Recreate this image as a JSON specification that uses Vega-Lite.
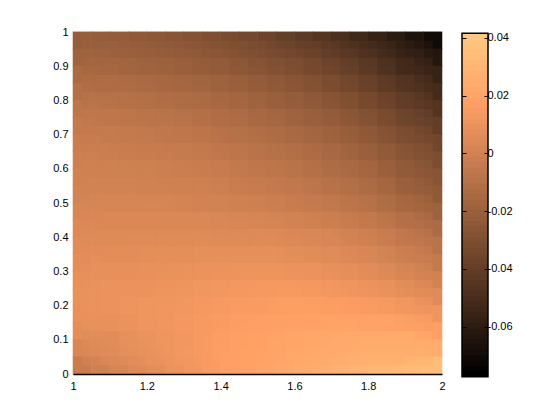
{"$schema":"https://vega.github.io/schema/vega-lite/v6.json","autosize":"none","padding":0,"width":560,"height":420,"background":"white","config":{"view":{"stroke":null},"font":"Liberation Sans","axis":{"labelFont":"Liberation Sans","labelFontSize":11,"labelColor":"black","title":null,"grid":false}},"resolve":{"scale":{"x":"independent","y":"independent","color":"independent"},"axis":{"x":"independent","y":"independent"}},"datasets":{"grid":[
{"x":1.025,"y":0.975,"v":-0.0213},{"x":1.075,"y":0.975,"v":-0.0218},{"x":1.125,"y":0.975,"v":-0.0225},{"x":1.175,"y":0.975,"v":-0.0235},{"x":1.225,"y":0.975,"v":-0.0248},{"x":1.275,"y":0.975,"v":-0.0263},{"x":1.325,"y":0.975,"v":-0.028},{"x":1.375,"y":0.975,"v":-0.03},{"x":1.425,"y":0.975,"v":-0.032},{"x":1.475,"y":0.975,"v":-0.034},{"x":1.525,"y":0.975,"v":-0.0366},{"x":1.575,"y":0.975,"v":-0.0399},{"x":1.625,"y":0.975,"v":-0.0429},{"x":1.675,"y":0.975,"v":-0.0456},{"x":1.725,"y":0.975,"v":-0.049},{"x":1.775,"y":0.975,"v":-0.053},{"x":1.825,"y":0.975,"v":-0.0573},{"x":1.875,"y":0.975,"v":-0.0618},{"x":1.925,"y":0.975,"v":-0.0663},{"x":1.975,"y":0.975,"v":-0.0708},
{"x":1.025,"y":0.925,"v":-0.0178},{"x":1.075,"y":0.925,"v":-0.0183},{"x":1.125,"y":0.925,"v":-0.019},{"x":1.175,"y":0.925,"v":-0.02},{"x":1.225,"y":0.925,"v":-0.021},{"x":1.275,"y":0.925,"v":-0.022},{"x":1.325,"y":0.925,"v":-0.0234},{"x":1.375,"y":0.925,"v":-0.0251},{"x":1.425,"y":0.925,"v":-0.027},{"x":1.475,"y":0.925,"v":-0.029},{"x":1.525,"y":0.925,"v":-0.0311},{"x":1.575,"y":0.925,"v":-0.0334},{"x":1.625,"y":0.925,"v":-0.0359},{"x":1.675,"y":0.925,"v":-0.0386},{"x":1.725,"y":0.925,"v":-0.0418},{"x":1.775,"y":0.925,"v":-0.0453},{"x":1.825,"y":0.925,"v":-0.0493},{"x":1.875,"y":0.925,"v":-0.0538},{"x":1.925,"y":0.925,"v":-0.0585},{"x":1.975,"y":0.925,"v":-0.0635},
{"x":1.025,"y":0.875,"v":-0.0139},{"x":1.075,"y":0.875,"v":-0.0144},{"x":1.125,"y":0.875,"v":-0.0151},{"x":1.175,"y":0.875,"v":-0.016},{"x":1.225,"y":0.875,"v":-0.017},{"x":1.275,"y":0.875,"v":-0.018},{"x":1.325,"y":0.875,"v":-0.0191},{"x":1.375,"y":0.875,"v":-0.0204},{"x":1.425,"y":0.875,"v":-0.0216},{"x":1.475,"y":0.875,"v":-0.0239},{"x":1.525,"y":0.875,"v":-0.0258},{"x":1.575,"y":0.875,"v":-0.0278},{"x":1.625,"y":0.875,"v":-0.03},{"x":1.675,"y":0.875,"v":-0.0326},{"x":1.725,"y":0.875,"v":-0.0355},{"x":1.775,"y":0.875,"v":-0.0388},{"x":1.825,"y":0.875,"v":-0.0427},{"x":1.875,"y":0.875,"v":-0.0471},{"x":1.925,"y":0.875,"v":-0.0518},{"x":1.975,"y":0.875,"v":-0.0568},
{"x":1.025,"y":0.825,"v":-0.0102},{"x":1.075,"y":0.825,"v":-0.0107},{"x":1.125,"y":0.825,"v":-0.0113},{"x":1.175,"y":0.825,"v":-0.0121},{"x":1.225,"y":0.825,"v":-0.013},{"x":1.275,"y":0.825,"v":-0.014},{"x":1.325,"y":0.825,"v":-0.0151},{"x":1.375,"y":0.825,"v":-0.0164},{"x":1.425,"y":0.825,"v":-0.0178},{"x":1.475,"y":0.825,"v":-0.0195},{"x":1.525,"y":0.825,"v":-0.0213},{"x":1.575,"y":0.825,"v":-0.0233},{"x":1.625,"y":0.825,"v":-0.0256},{"x":1.675,"y":0.825,"v":-0.028},{"x":1.725,"y":0.825,"v":-0.0309},{"x":1.775,"y":0.825,"v":-0.0339},{"x":1.825,"y":0.825,"v":-0.0376},{"x":1.875,"y":0.825,"v":-0.0417},{"x":1.925,"y":0.825,"v":-0.0463},{"x":1.975,"y":0.825,"v":-0.0513},
{"x":1.025,"y":0.775,"v":-0.007},{"x":1.075,"y":0.775,"v":-0.0075},{"x":1.125,"y":0.775,"v":-0.0081},{"x":1.175,"y":0.775,"v":-0.0088},{"x":1.225,"y":0.775,"v":-0.0096},{"x":1.275,"y":0.775,"v":-0.0105},{"x":1.325,"y":0.775,"v":-0.0116},{"x":1.375,"y":0.775,"v":-0.0128},{"x":1.425,"y":0.775,"v":-0.0141},{"x":1.475,"y":0.775,"v":-0.0156},{"x":1.525,"y":0.775,"v":-0.0172},{"x":1.575,"y":0.775,"v":-0.0191},{"x":1.625,"y":0.775,"v":-0.0212},{"x":1.675,"y":0.775,"v":-0.0236},{"x":1.725,"y":0.775,"v":-0.0263},{"x":1.775,"y":0.775,"v":-0.0293},{"x":1.825,"y":0.775,"v":-0.0327},{"x":1.875,"y":0.775,"v":-0.0366},{"x":1.925,"y":0.775,"v":-0.041},{"x":1.975,"y":0.775,"v":-0.0459},
{"x":1.025,"y":0.725,"v":-0.0045},{"x":1.075,"y":0.725,"v":-0.005},{"x":1.125,"y":0.725,"v":-0.0056},{"x":1.175,"y":0.725,"v":-0.0061},{"x":1.225,"y":0.725,"v":-0.0068},{"x":1.275,"y":0.725,"v":-0.0076},{"x":1.325,"y":0.725,"v":-0.0086},{"x":1.375,"y":0.725,"v":-0.0095},{"x":1.425,"y":0.725,"v":-0.0108},{"x":1.475,"y":0.725,"v":-0.0121},{"x":1.525,"y":0.725,"v":-0.0136},{"x":1.575,"y":0.725,"v":-0.0152},{"x":1.625,"y":0.725,"v":-0.0171},{"x":1.675,"y":0.725,"v":-0.0192},{"x":1.725,"y":0.725,"v":-0.0218},{"x":1.775,"y":0.725,"v":-0.0248},{"x":1.825,"y":0.725,"v":-0.0282},{"x":1.875,"y":0.725,"v":-0.0319},{"x":1.925,"y":0.725,"v":-0.036},{"x":1.975,"y":0.725,"v":-0.0406},
{"x":1.025,"y":0.675,"v":-0.0025},{"x":1.075,"y":0.675,"v":-0.0028},{"x":1.125,"y":0.675,"v":-0.0032},{"x":1.175,"y":0.675,"v":-0.0037},{"x":1.225,"y":0.675,"v":-0.0043},{"x":1.275,"y":0.675,"v":-0.0049},{"x":1.325,"y":0.675,"v":-0.0058},{"x":1.375,"y":0.675,"v":-0.0067},{"x":1.425,"y":0.675,"v":-0.0078},{"x":1.475,"y":0.675,"v":-0.0091},{"x":1.525,"y":0.675,"v":-0.0105},{"x":1.575,"y":0.675,"v":-0.0118},{"x":1.625,"y":0.675,"v":-0.0135},{"x":1.675,"y":0.675,"v":-0.0155},{"x":1.725,"y":0.675,"v":-0.0179},{"x":1.775,"y":0.675,"v":-0.0206},{"x":1.825,"y":0.675,"v":-0.0238},{"x":1.875,"y":0.675,"v":-0.0273},{"x":1.925,"y":0.675,"v":-0.0312},{"x":1.975,"y":0.675,"v":-0.0356},
{"x":1.025,"y":0.625,"v":-0.0009},{"x":1.075,"y":0.625,"v":-0.001},{"x":1.125,"y":0.625,"v":-0.0012},{"x":1.175,"y":0.625,"v":-0.0015},{"x":1.225,"y":0.625,"v":-0.0019},{"x":1.275,"y":0.625,"v":-0.0025},{"x":1.325,"y":0.625,"v":-0.0032},{"x":1.375,"y":0.625,"v":-0.004},{"x":1.425,"y":0.625,"v":-0.0051},{"x":1.475,"y":0.625,"v":-0.0066},{"x":1.525,"y":0.625,"v":-0.0079},{"x":1.575,"y":0.625,"v":-0.009},{"x":1.625,"y":0.625,"v":-0.0105},{"x":1.675,"y":0.625,"v":-0.0125},{"x":1.725,"y":0.625,"v":-0.0146},{"x":1.775,"y":0.625,"v":-0.0169},{"x":1.825,"y":0.625,"v":-0.0198},{"x":1.875,"y":0.625,"v":-0.0232},{"x":1.925,"y":0.625,"v":-0.0271},{"x":1.975,"y":0.625,"v":-0.0312},
{"x":1.025,"y":0.575,"v":0.0005},{"x":1.075,"y":0.575,"v":0.0005},{"x":1.125,"y":0.575,"v":0.0004},{"x":1.175,"y":0.575,"v":0.0002},{"x":1.225,"y":0.575,"v":-0.0001},{"x":1.275,"y":0.575,"v":-0.0005},{"x":1.325,"y":0.575,"v":-0.0011},{"x":1.375,"y":0.575,"v":-0.0018},{"x":1.425,"y":0.575,"v":-0.0028},{"x":1.475,"y":0.575,"v":-0.0041},{"x":1.525,"y":0.575,"v":-0.0053},{"x":1.575,"y":0.575,"v":-0.0063},{"x":1.625,"y":0.575,"v":-0.0077},{"x":1.675,"y":0.575,"v":-0.0096},{"x":1.725,"y":0.575,"v":-0.0115},{"x":1.775,"y":0.575,"v":-0.0135},{"x":1.825,"y":0.575,"v":-0.0162},{"x":1.875,"y":0.575,"v":-0.0196},{"x":1.925,"y":0.575,"v":-0.0232},{"x":1.975,"y":0.575,"v":-0.0271},
{"x":1.025,"y":0.525,"v":0.0015},{"x":1.075,"y":0.525,"v":0.0015},{"x":1.125,"y":0.525,"v":0.0015},{"x":1.175,"y":0.525,"v":0.0014},{"x":1.225,"y":0.525,"v":0.0013},{"x":1.275,"y":0.525,"v":0.001},{"x":1.325,"y":0.525,"v":0.0005},{"x":1.375,"y":0.525,"v":0},{"x":1.425,"y":0.525,"v":-0.0008},{"x":1.475,"y":0.525,"v":-0.0018},{"x":1.525,"y":0.525,"v":-0.0028},{"x":1.575,"y":0.525,"v":-0.0038},{"x":1.625,"y":0.525,"v":-0.0051},{"x":1.675,"y":0.525,"v":-0.0067},{"x":1.725,"y":0.525,"v":-0.0085},{"x":1.775,"y":0.525,"v":-0.0105},{"x":1.825,"y":0.525,"v":-0.0131},{"x":1.875,"y":0.525,"v":-0.0162},{"x":1.925,"y":0.525,"v":-0.0197},{"x":1.975,"y":0.525,"v":-0.0234},
{"x":1.025,"y":0.475,"v":0.0029},{"x":1.075,"y":0.475,"v":0.0029},{"x":1.125,"y":0.475,"v":0.0029},{"x":1.175,"y":0.475,"v":0.0029},{"x":1.225,"y":0.475,"v":0.0028},{"x":1.275,"y":0.475,"v":0.0026},{"x":1.325,"y":0.475,"v":0.0023},{"x":1.375,"y":0.475,"v":0.002},{"x":1.425,"y":0.475,"v":0.0015},{"x":1.475,"y":0.475,"v":0.0008},{"x":1.525,"y":0.475,"v":0},{"x":1.575,"y":0.475,"v":-0.0009},{"x":1.625,"y":0.475,"v":-0.002},{"x":1.675,"y":0.475,"v":-0.0033},{"x":1.725,"y":0.475,"v":-0.0048},{"x":1.775,"y":0.475,"v":-0.0066},{"x":1.825,"y":0.475,"v":-0.009},{"x":1.875,"y":0.475,"v":-0.0119},{"x":1.925,"y":0.475,"v":-0.015},{"x":1.975,"y":0.475,"v":-0.0186},
{"x":1.025,"y":0.425,"v":0.0046},{"x":1.075,"y":0.425,"v":0.0046},{"x":1.125,"y":0.425,"v":0.0046},{"x":1.175,"y":0.425,"v":0.0046},{"x":1.225,"y":0.425,"v":0.0046},{"x":1.275,"y":0.425,"v":0.0045},{"x":1.325,"y":0.425,"v":0.0045},{"x":1.375,"y":0.425,"v":0.0044},{"x":1.425,"y":0.425,"v":0.0041},{"x":1.475,"y":0.425,"v":0.0037},{"x":1.525,"y":0.425,"v":0.0032},{"x":1.575,"y":0.425,"v":0.0026},{"x":1.625,"y":0.425,"v":0.0019},{"x":1.675,"y":0.425,"v":0.0009},{"x":1.725,"y":0.425,"v":-0.0003},{"x":1.775,"y":0.425,"v":-0.0018},{"x":1.825,"y":0.425,"v":-0.0038},{"x":1.875,"y":0.425,"v":-0.0065},{"x":1.925,"y":0.425,"v":-0.0095},{"x":1.975,"y":0.425,"v":-0.013},
{"x":1.025,"y":0.375,"v":0.0063},{"x":1.075,"y":0.375,"v":0.0063},{"x":1.125,"y":0.375,"v":0.0064},{"x":1.175,"y":0.375,"v":0.0065},{"x":1.225,"y":0.375,"v":0.0065},{"x":1.275,"y":0.375,"v":0.0066},{"x":1.325,"y":0.375,"v":0.0067},{"x":1.375,"y":0.375,"v":0.0067},{"x":1.425,"y":0.375,"v":0.0067},{"x":1.475,"y":0.375,"v":0.0066},{"x":1.525,"y":0.375,"v":0.0063},{"x":1.575,"y":0.375,"v":0.0058},{"x":1.625,"y":0.375,"v":0.0052},{"x":1.675,"y":0.375,"v":0.0045},{"x":1.725,"y":0.375,"v":0.0035},{"x":1.775,"y":0.375,"v":0.0022},{"x":1.825,"y":0.375,"v":0.0004},{"x":1.875,"y":0.375,"v":-0.0021},{"x":1.925,"y":0.375,"v":-0.005},{"x":1.975,"y":0.375,"v":-0.0083},
{"x":1.025,"y":0.325,"v":0.0079},{"x":1.075,"y":0.325,"v":0.008},{"x":1.125,"y":0.325,"v":0.0082},{"x":1.175,"y":0.325,"v":0.0084},{"x":1.225,"y":0.325,"v":0.0086},{"x":1.275,"y":0.325,"v":0.0088},{"x":1.325,"y":0.325,"v":0.009},{"x":1.375,"y":0.325,"v":0.0092},{"x":1.425,"y":0.325,"v":0.0094},{"x":1.475,"y":0.325,"v":0.0095},{"x":1.525,"y":0.325,"v":0.0094},{"x":1.575,"y":0.325,"v":0.0091},{"x":1.625,"y":0.325,"v":0.0085},{"x":1.675,"y":0.325,"v":0.0078},{"x":1.725,"y":0.325,"v":0.0068},{"x":1.775,"y":0.325,"v":0.0055},{"x":1.825,"y":0.325,"v":0.0038},{"x":1.875,"y":0.325,"v":0.0014},{"x":1.925,"y":0.325,"v":-0.0013},{"x":1.975,"y":0.325,"v":-0.0044},
{"x":1.025,"y":0.275,"v":0.0091},{"x":1.075,"y":0.275,"v":0.0094},{"x":1.125,"y":0.275,"v":0.0097},{"x":1.175,"y":0.275,"v":0.01},{"x":1.225,"y":0.275,"v":0.0103},{"x":1.275,"y":0.275,"v":0.0106},{"x":1.325,"y":0.275,"v":0.011},{"x":1.375,"y":0.275,"v":0.0114},{"x":1.425,"y":0.275,"v":0.0118},{"x":1.475,"y":0.275,"v":0.0121},{"x":1.525,"y":0.275,"v":0.0123},{"x":1.575,"y":0.275,"v":0.0122},{"x":1.625,"y":0.275,"v":0.0118},{"x":1.675,"y":0.275,"v":0.0112},{"x":1.725,"y":0.275,"v":0.0103},{"x":1.775,"y":0.275,"v":0.0092},{"x":1.825,"y":0.275,"v":0.0076},{"x":1.875,"y":0.275,"v":0.0055},{"x":1.925,"y":0.275,"v":0.0031},{"x":1.975,"y":0.275,"v":0.0004},
{"x":1.025,"y":0.225,"v":0.0099},{"x":1.075,"y":0.225,"v":0.0106},{"x":1.125,"y":0.225,"v":0.011},{"x":1.175,"y":0.225,"v":0.0113},{"x":1.225,"y":0.225,"v":0.0116},{"x":1.275,"y":0.225,"v":0.0121},{"x":1.325,"y":0.225,"v":0.0127},{"x":1.375,"y":0.225,"v":0.0135},{"x":1.425,"y":0.225,"v":0.0141},{"x":1.475,"y":0.225,"v":0.0146},{"x":1.525,"y":0.225,"v":0.015},{"x":1.575,"y":0.225,"v":0.0153},{"x":1.625,"y":0.225,"v":0.0152},{"x":1.675,"y":0.225,"v":0.0148},{"x":1.725,"y":0.225,"v":0.0142},{"x":1.775,"y":0.225,"v":0.0133},{"x":1.825,"y":0.225,"v":0.012},{"x":1.875,"y":0.225,"v":0.0104},{"x":1.925,"y":0.225,"v":0.0084},{"x":1.975,"y":0.225,"v":0.0061},
{"x":1.025,"y":0.175,"v":0.0095},{"x":1.075,"y":0.175,"v":0.0103},{"x":1.125,"y":0.175,"v":0.0111},{"x":1.175,"y":0.175,"v":0.0116},{"x":1.225,"y":0.175,"v":0.0123},{"x":1.275,"y":0.175,"v":0.0129},{"x":1.325,"y":0.175,"v":0.0139},{"x":1.375,"y":0.175,"v":0.015},{"x":1.425,"y":0.175,"v":0.0159},{"x":1.475,"y":0.175,"v":0.0165},{"x":1.525,"y":0.175,"v":0.0171},{"x":1.575,"y":0.175,"v":0.0177},{"x":1.625,"y":0.175,"v":0.018},{"x":1.675,"y":0.175,"v":0.0181},{"x":1.725,"y":0.175,"v":0.0179},{"x":1.775,"y":0.175,"v":0.0175},{"x":1.825,"y":0.175,"v":0.0167},{"x":1.875,"y":0.175,"v":0.0154},{"x":1.925,"y":0.175,"v":0.0139},{"x":1.975,"y":0.175,"v":0.012},
{"x":1.025,"y":0.125,"v":0.0076},{"x":1.075,"y":0.125,"v":0.0087},{"x":1.125,"y":0.125,"v":0.0098},{"x":1.175,"y":0.125,"v":0.011},{"x":1.225,"y":0.125,"v":0.0122},{"x":1.275,"y":0.125,"v":0.0132},{"x":1.325,"y":0.125,"v":0.0145},{"x":1.375,"y":0.125,"v":0.0161},{"x":1.425,"y":0.125,"v":0.0172},{"x":1.475,"y":0.125,"v":0.0179},{"x":1.525,"y":0.125,"v":0.0187},{"x":1.575,"y":0.125,"v":0.0196},{"x":1.625,"y":0.125,"v":0.0204},{"x":1.675,"y":0.125,"v":0.021},{"x":1.725,"y":0.125,"v":0.0215},{"x":1.775,"y":0.125,"v":0.0217},{"x":1.825,"y":0.125,"v":0.0214},{"x":1.875,"y":0.125,"v":0.0207},{"x":1.925,"y":0.125,"v":0.0195},{"x":1.975,"y":0.125,"v":0.0178},
{"x":1.025,"y":0.075,"v":0.0036},{"x":1.075,"y":0.075,"v":0.0053},{"x":1.125,"y":0.075,"v":0.007},{"x":1.175,"y":0.075,"v":0.009},{"x":1.225,"y":0.075,"v":0.0108},{"x":1.275,"y":0.075,"v":0.0124},{"x":1.325,"y":0.075,"v":0.0143},{"x":1.375,"y":0.075,"v":0.0163},{"x":1.425,"y":0.075,"v":0.0178},{"x":1.475,"y":0.075,"v":0.0189},{"x":1.525,"y":0.075,"v":0.02},{"x":1.575,"y":0.075,"v":0.0214},{"x":1.625,"y":0.075,"v":0.0226},{"x":1.675,"y":0.075,"v":0.0239},{"x":1.725,"y":0.075,"v":0.025},{"x":1.775,"y":0.075,"v":0.0259},{"x":1.825,"y":0.075,"v":0.0265},{"x":1.875,"y":0.075,"v":0.0267},{"x":1.925,"y":0.075,"v":0.0265},{"x":1.975,"y":0.075,"v":0.0258},
{"x":1.025,"y":0.025,"v":-0.0025},{"x":1.075,"y":0.025,"v":0.0001},{"x":1.125,"y":0.025,"v":0.0027},{"x":1.175,"y":0.025,"v":0.0053},{"x":1.225,"y":0.025,"v":0.0079},{"x":1.275,"y":0.025,"v":0.0105},{"x":1.325,"y":0.025,"v":0.013},{"x":1.375,"y":0.025,"v":0.0155},{"x":1.425,"y":0.025,"v":0.0176},{"x":1.475,"y":0.025,"v":0.0193},{"x":1.525,"y":0.025,"v":0.0211},{"x":1.575,"y":0.025,"v":0.023},{"x":1.625,"y":0.025,"v":0.0249},{"x":1.675,"y":0.025,"v":0.0266},{"x":1.725,"y":0.025,"v":0.0284},{"x":1.775,"y":0.025,"v":0.0302},{"x":1.825,"y":0.025,"v":0.0319},{"x":1.875,"y":0.025,"v":0.0335},{"x":1.925,"y":0.025,"v":0.0348},{"x":1.975,"y":0.025,"v":0.0357}
],"bar":[
{"lo":-0.0773,"m":-0.07637},{"lo":-0.07544,"m":-0.07451},{"lo":-0.07358,"m":-0.07265},{"lo":-0.07173,"m":-0.0708},{"lo":-0.06987,"m":-0.06894},{"lo":-0.06801,"m":-0.06708},{"lo":-0.06615,"m":-0.06522},{"lo":-0.06429,"m":-0.06336},{"lo":-0.06244,"m":-0.06151},{"lo":-0.06058,"m":-0.05965},{"lo":-0.05872,"m":-0.05779},{"lo":-0.05686,"m":-0.05593},{"lo":-0.055,"m":-0.05407},{"lo":-0.05315,"m":-0.05222},{"lo":-0.05129,"m":-0.05036},{"lo":-0.04943,"m":-0.0485},{"lo":-0.04757,"m":-0.04664},{"lo":-0.04571,"m":-0.04478},{"lo":-0.04386,"m":-0.04293},{"lo":-0.042,"m":-0.04107},{"lo":-0.04014,"m":-0.03921},{"lo":-0.03828,"m":-0.03735},{"lo":-0.03642,"m":-0.03549},{"lo":-0.03457,"m":-0.03364},{"lo":-0.03271,"m":-0.03178},{"lo":-0.03085,"m":-0.02992},{"lo":-0.02899,"m":-0.02806},{"lo":-0.02713,"m":-0.0262},{"lo":-0.02528,"m":-0.02435},{"lo":-0.02342,"m":-0.02249},{"lo":-0.02156,"m":-0.02063},{"lo":-0.0197,"m":-0.01877},{"lo":-0.01784,"m":-0.01691},{"lo":-0.01599,"m":-0.01506},{"lo":-0.01413,"m":-0.0132},{"lo":-0.01227,"m":-0.01134},{"lo":-0.01041,"m":-0.00948},{"lo":-0.00855,"m":-0.00762},{"lo":-0.0067,"m":-0.00577},{"lo":-0.00484,"m":-0.00391},{"lo":-0.00298,"m":-0.00205},{"lo":-0.00112,"m":-0.00019},{"lo":0.00074,"m":0.00167},{"lo":0.00259,"m":0.00352},{"lo":0.00445,"m":0.00538},{"lo":0.00631,"m":0.00724},{"lo":0.00817,"m":0.0091},{"lo":0.01003,"m":0.01096},{"lo":0.01188,"m":0.01281},{"lo":0.01374,"m":0.01467},{"lo":0.0156,"m":0.01653},{"lo":0.01746,"m":0.01839},{"lo":0.01932,"m":0.02025},{"lo":0.02117,"m":0.0221},{"lo":0.02303,"m":0.02396},{"lo":0.02489,"m":0.02582},{"lo":0.02675,"m":0.02768},{"lo":0.02861,"m":0.02954},{"lo":0.03046,"m":0.03139},{"lo":0.03232,"m":0.03325},{"lo":0.03418,"m":0.03511},{"lo":0.03604,"m":0.03697},{"lo":0.0379,"m":0.03883},{"lo":0.03975,"m":0.04068}
]},"layer":[{"layer":[{"data":{"name":"grid"},"mark":{"type":"rect","width":19,"height":18},"encoding":{"x":{"field":"x","type":"quantitative","scale":{"domain":[1,2],"nice":false,"zero":false,"range":[73,442]},"axis":{"orient":"bottom","offset":-46,"values":[1,1.2,1.4,1.6,1.8,2],"format":"~g","ticks":false,"domain":true,"domainColor":"black","domainWidth":1.5,"labelPadding":6,"labelFlush":false,"labelBound":false,"labelOverlap":false,"zindex":1}},"y":{"field":"y","type":"quantitative","scale":{"domain":[0,1],"nice":false,"range":[374,32]},"axis":{"orient":"left","offset":-73,"values":[0,0.1,0.2,0.3,0.4,0.5,0.6,0.7,0.8,0.9,1],"format":"~g","ticks":false,"domain":false,"labelPadding":5,"labelFlush":false,"labelBound":false,"labelOverlap":false}},"color":{"field":"v","type":"quantitative","legend":null,"scale":{"type":"linear","interpolate":"rgb","domain":[-0.0773,0.01782,0.0416],"range":["rgb(0,0,0)","rgb(255,159,101)","rgb(255,199,127)"]}}}},{"data":{"name":"grid"},"transform":[{"filter":"datum.x>1.05&&datum.x<1.95&&datum.y>0.05&&datum.y<0.95"}],"mark":{"type":"rect","width":37,"height":34,"opacity":0.4},"encoding":{"x":{"field":"x","type":"quantitative"},"y":{"field":"y","type":"quantitative"},"color":{"field":"v","type":"quantitative","legend":null}}},{"mark":{"type":"rule","color":"black","strokeWidth":1.5,"strokeDash":[2,3]},"encoding":{"x":{"datum":2},"y":{"datum":1},"y2":{"datum":0}}}]},{"resolve":{"axis":{"y":"independent"}},"layer":[{"data":{"name":"bar"},"mark":{"type":"rect"},"encoding":{"x":{"datum":0,"type":"quantitative","scale":{"domain":[0,1],"nice":false,"range":[462,488]},"axis":null},"x2":{"datum":1},"y":{"field":"lo","type":"quantitative","scale":{"domain":[-0.0773,0.0416],"nice":false,"zero":false,"range":[376.7,33.3]},"axis":{"orient":"left","offset":-462,"values":[-0.06,-0.04,-0.02,0,0.02,0.04],"labels":false,"domain":false,"tickColor":"black","tickSize":-4,"tickWidth":1,"zindex":1}},"y2":{"datum":0.0416},"color":{"field":"m","type":"quantitative","legend":null,"scale":{"type":"quantize","domain":[-0.0773,0.0416],"range":["rgb(0,0,0)","rgb(5,3,2)","rgb(10,6,4)","rgb(15,9,6)","rgb(20,13,8)","rgb(25,16,10)","rgb(30,19,12)","rgb(35,22,14)","rgb(40,25,16)","rgb(46,28,18)","rgb(51,32,20)","rgb(56,35,22)","rgb(61,38,24)","rgb(66,41,26)","rgb(71,44,28)","rgb(76,47,30)","rgb(81,51,32)","rgb(86,54,34)","rgb(91,57,36)","rgb(96,60,38)","rgb(101,63,40)","rgb(106,66,42)","rgb(111,70,44)","rgb(116,73,46)","rgb(121,76,48)","rgb(127,79,50)","rgb(132,82,52)","rgb(137,85,54)","rgb(142,89,56)","rgb(147,92,58)","rgb(152,95,60)","rgb(157,98,62)","rgb(162,101,64)","rgb(167,104,66)","rgb(172,108,68)","rgb(177,111,70)","rgb(182,114,72)","rgb(187,117,75)","rgb(192,120,77)","rgb(197,123,79)","rgb(202,126,81)","rgb(208,130,83)","rgb(213,133,85)","rgb(218,136,87)","rgb(223,139,89)","rgb(228,142,91)","rgb(233,145,93)","rgb(238,149,95)","rgb(243,152,97)","rgb(248,155,99)","rgb(253,158,101)","rgb(255,161,103)","rgb(255,164,105)","rgb(255,168,107)","rgb(255,171,109)","rgb(255,174,111)","rgb(255,177,113)","rgb(255,180,115)","rgb(255,183,117)","rgb(255,187,119)","rgb(255,190,121)","rgb(255,193,123)","rgb(255,196,125)","rgb(255,199,127)"]}}}},{"data":{"values":[{"a":-0.0773,"b":0.0416}]},"mark":{"type":"rect","fillOpacity":0,"stroke":"black","strokeWidth":1.5},"encoding":{"x":{"datum":0,"type":"quantitative","axis":null},"x2":{"datum":1},"y":{"field":"a","type":"quantitative","axis":{"orient":"right","offset":-72,"values":[-0.06,-0.04,-0.02,0,0.02,0.04],"labelExpr":"datum.value==0?'0':(datum.value<0?'-':'')+format(abs(datum.value),'.2f')","domain":false,"tickColor":"black","tickSize":-4,"tickWidth":1,"labelPadding":3,"labelAlign":"left","labelFlush":false,"labelBound":false,"labelOverlap":false,"zindex":1}},"y2":{"field":"b"}}}]}]}
